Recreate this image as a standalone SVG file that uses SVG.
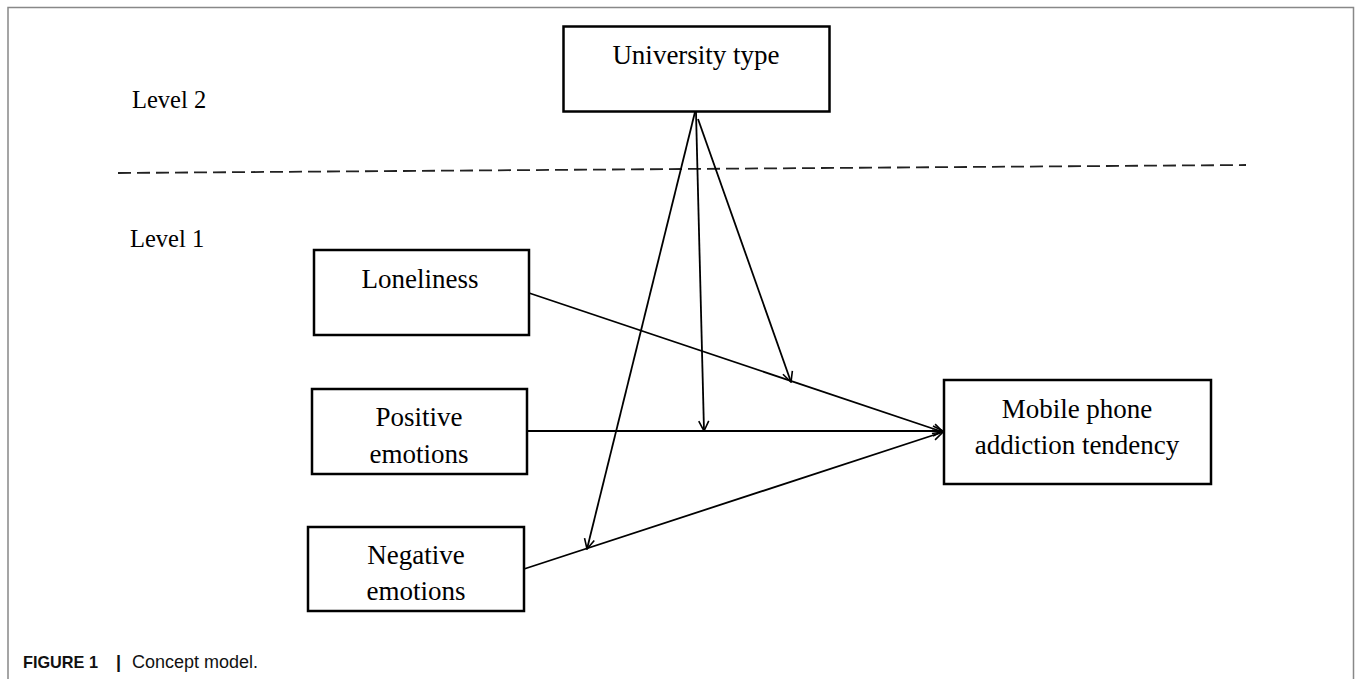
<svg xmlns="http://www.w3.org/2000/svg" width="1356" height="679" viewBox="0 0 1356 679">
<defs>
<marker id="arr" viewBox="0 0 12 12" refX="11" refY="6" markerWidth="12" markerHeight="12" markerUnits="userSpaceOnUse" orient="auto">
<path d="M1,1 L11,6 L1,11" fill="none" stroke="#000" stroke-width="1.6"/>
</marker>
<style>
.box{fill:#fff;stroke:#000;stroke-width:2.5}
.t{font-family:"Liberation Serif","Times New Roman",serif;font-size:27px;fill:#000;text-anchor:middle}
.lv{font-family:"Liberation Serif","Times New Roman",serif;font-size:24.5px;fill:#000}
.c{stroke:#000;stroke-width:1.8;fill:none;marker-end:url(#arr)}
</style>
</defs>
<rect width="1356" height="679" fill="#fff"/>
<path d="M8,679 L8,7.5 L1353.5,7.5 L1353.5,679" fill="none" stroke="#888" stroke-width="1.5"/>
<line x1="118" y1="173" x2="1246" y2="165" stroke="#222" stroke-width="1.8" stroke-dasharray="13,6"/>
<text class="lv" x="132" y="108">Level 2</text>
<text class="lv" x="130" y="247">Level 1</text>
<g id="university"><rect class="box" x="563.5" y="26.5" width="266" height="85"/><text class="t" x="696" y="64">University type</text></g>
<g id="loneliness"><rect class="box" x="314" y="250" width="215" height="85"/><text class="t" x="420" y="288">Loneliness</text></g>
<g id="positive"><rect class="box" x="312" y="389" width="215" height="85"/><text class="t" x="419" y="426">Positive</text><text class="t" x="419" y="463">emotions</text></g>
<g id="negative"><rect class="box" x="308" y="527" width="216" height="84"/><text class="t" x="416" y="564">Negative</text><text class="t" x="416" y="600">emotions</text></g>
<g id="mobile"><rect class="box" x="944" y="380" width="267" height="104"/><text class="t" x="1077" y="418">Mobile phone</text><text class="t" x="1077" y="454">addiction tendency</text></g>
<g id="connectors">
<line class="c" x1="529" y1="293" x2="943" y2="432"/>
<line class="c" x1="527" y1="431" x2="943" y2="431"/>
<line class="c" x1="524" y1="569" x2="943" y2="432"/>
<line class="c" x1="695" y1="112" x2="587" y2="549"/>
<line class="c" x1="696" y1="112" x2="704" y2="431"/>
<line class="c" x1="698" y1="119" x2="791" y2="382"/>
</g>
<text y="668" font-family="Liberation Sans,Arial,sans-serif" fill="#111"><tspan x="23" font-size="17" font-weight="bold" textLength="75" lengthAdjust="spacingAndGlyphs">FIGURE 1</tspan><tspan x="116" font-size="18" font-weight="bold">|</tspan><tspan x="132" font-size="18">Concept model.</tspan></text>
</svg>
